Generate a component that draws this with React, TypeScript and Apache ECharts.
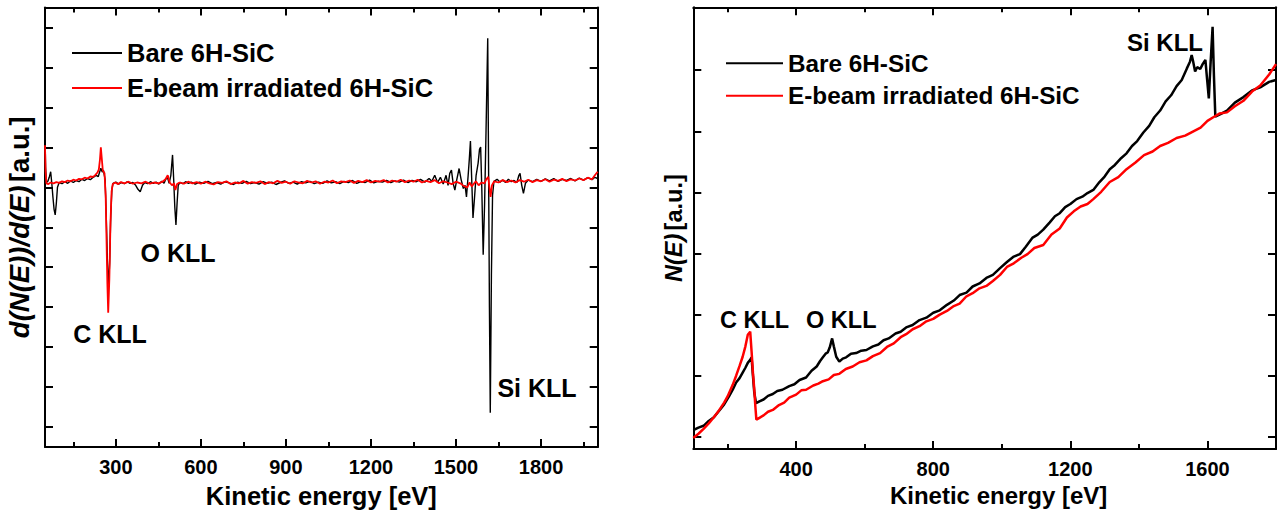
import React, { useEffect, useRef } from "react";
import * as echarts from "echarts";

// ---------- DATA ----------
const xTicksLeft = [300, 600, 900, 1200, 1500, 1800];
const xMinorLeft = [150, 450, 750, 1050, 1350, 1650, 1950];
const yTicksLeft = [-5, -4, -3, -2, -1, 0, 1, 2, 3, 4, 5];
const xTicksRight = [400, 800, 1200, 1600];
const xMinorRight = [200, 600, 1000, 1400];
const yTicksRight = [0.2, 1.2, 2.2, 3.2, 4.2, 5.2, 6.2];

const seriesNames = ["Bare 6H-SiC", "E-beam irradiated 6H-SiC"];

// d(N(E))/d(E), bare sample [eV, a.u.]
const derivBare: [number, number][] = [
  [50, 2.35], [52, 1.5], [55, 1.12], [60, 1.15], [65, 1.25], [70, 1.39], [74, 1.1], [78, 0.75], [82, 0.45], [86, 0.31], [90, 0.6], [94, 1.0],
  [100, 1.12], [110, 1.09], [120, 1.14], [130, 1.1], [140, 1.16], [150, 1.12], [160, 1.17], [170, 1.14], [180, 1.2], [190, 1.17], [200, 1.22],
  [210, 1.19], [220, 1.25], [230, 1.3], [238, 1.27], [247, 1.48], [252, 1.38], [256, 1.43], [262, 1.2], [266, 0.3], [270, -0.8], [274, -1.5],
  [278, -0.9], [282, 0.3], [286, 0.95], [290, 1.1], [300, 1.13], [310, 1.08], [320, 1.12], [330, 1.09], [340, 1.14], [350, 1.1], [360, 1.12],
  [370, 1.05], [378, 0.95], [386, 0.89], [394, 1.05], [402, 1.12], [412, 1.09], [422, 1.14], [432, 1.1], [442, 1.13], [452, 1.08], [462, 1.15],
  [470, 1.1], [476, 1.2], [482, 1.25], [488, 1.1], [494, 1.3], [500, 1.81], [504, 1.2], [508, 0.5], [512, 0.06], [516, 0.6], [520, 1.05],
  [526, 1.12], [536, 1.09], [546, 1.14], [556, 1.1], [566, 1.13], [580, 1.08], [595, 1.13], [610, 1.1], [625, 1.15], [640, 1.09], [655, 1.12],
  [670, 1.08], [685, 1.14], [700, 1.11], [715, 1.07], [730, 1.13], [745, 1.1], [760, 1.15], [775, 1.09], [790, 1.12], [805, 1.08], [820, 1.14],
  [835, 1.1], [850, 1.13], [865, 1.07], [880, 1.12], [895, 1.16], [910, 1.1], [925, 1.13], [940, 1.08], [955, 1.14], [970, 1.11], [985, 1.15],
  [1000, 1.09], [1015, 1.13], [1030, 1.1], [1045, 1.16], [1060, 1.11], [1075, 1.14], [1090, 1.09], [1105, 1.15], [1120, 1.12], [1135, 1.17],
  [1150, 1.1], [1165, 1.14], [1180, 1.12], [1195, 1.18], [1210, 1.11], [1225, 1.15], [1240, 1.13], [1255, 1.17], [1270, 1.12], [1285, 1.16],
  [1300, 1.13], [1315, 1.18], [1330, 1.12], [1345, 1.17], [1360, 1.14], [1375, 1.2], [1390, 1.13], [1405, 1.22], [1415, 1.15], [1425, 1.3],
  [1435, 1.12], [1445, 1.25], [1455, 1.08], [1465, 1.3], [1472, 1.05], [1478, 1.35], [1484, 1.43], [1490, 1.1], [1496, 0.93], [1503, 1.2],
  [1511, 1.47], [1518, 1.2], [1526, 0.97], [1532, 1.05], [1537, 0.76], [1543, 1.3], [1547, 1.7], [1551, 2.16], [1555, 1.3], [1560, 0.23],
  [1565, 0.7], [1571, 1.3], [1578, 1.6], [1583, 1.95], [1587, 2.01], [1591, 1.0], [1596, -0.69], [1601, 0.6], [1606, 2.4], [1612, 4.73],
  [1615, 1.5], [1618, -2.0], [1621, -4.64], [1625, -1.2], [1629, 0.8], [1634, 1.15], [1645, 1.2], [1655, 1.13], [1665, 1.18], [1675, 1.12],
  [1685, 1.2], [1695, 1.14], [1705, 1.17], [1715, 1.12], [1722, 1.3], [1726, 1.35], [1732, 1.05], [1738, 0.85], [1745, 1.1], [1755, 1.18],
  [1770, 1.14], [1785, 1.2], [1800, 1.15], [1815, 1.21], [1830, 1.16], [1845, 1.22], [1860, 1.15], [1875, 1.2], [1890, 1.17], [1905, 1.22],
  [1920, 1.16], [1935, 1.23], [1950, 1.18], [1965, 1.24], [1980, 1.19], [1990, 1.25], [2000, 1.22],
];

// d(N(E))/d(E), e-beam irradiated sample
const derivIrr: [number, number][] = [
  [50, 2.05], [52, 1.4], [55, 1.1], [62, 1.08], [70, 1.12], [80, 1.1], [90, 1.13], [100, 1.11], [110, 1.15], [120, 1.13], [130, 1.17],
  [140, 1.15], [150, 1.19], [160, 1.17], [170, 1.21], [180, 1.2], [190, 1.24], [200, 1.22], [210, 1.27], [220, 1.26], [228, 1.31], [235, 1.37],
  [240, 1.45], [244, 1.7], [247, 2.0], [250, 1.75], [254, 1.42], [260, 1.35], [264, 0.8], [267, -0.3], [270, -1.4], [273, -2.14], [277, -1.3],
  [281, 0.1], [285, 0.9], [289, 1.08], [298, 1.12], [308, 1.08], [318, 1.13], [330, 1.1], [345, 1.14], [360, 1.09], [375, 1.12], [390, 1.1],
  [405, 1.14], [420, 1.09], [435, 1.12], [450, 1.1], [465, 1.14], [475, 1.2], [483, 1.3], [490, 1.12], [498, 1.05], [505, 1.1], [510, 0.93],
  [516, 1.08], [525, 1.12], [540, 1.09], [555, 1.14], [570, 1.1], [585, 1.13], [600, 1.09], [615, 1.14], [630, 1.1], [645, 1.07], [660, 1.13],
  [675, 1.11], [690, 1.15], [705, 1.08], [720, 1.12], [735, 1.1], [750, 1.16], [765, 1.09], [780, 1.13], [795, 1.11], [810, 1.15], [825, 1.08],
  [840, 1.13], [855, 1.1], [870, 1.16], [885, 1.11], [900, 1.14], [915, 1.09], [930, 1.15], [945, 1.12], [960, 1.1], [975, 1.16], [990, 1.12],
  [1005, 1.15], [1020, 1.09], [1035, 1.14], [1050, 1.12], [1065, 1.17], [1080, 1.1], [1095, 1.15], [1110, 1.13], [1125, 1.17], [1140, 1.11],
  [1155, 1.16], [1170, 1.13], [1185, 1.18], [1200, 1.12], [1215, 1.16], [1230, 1.14], [1245, 1.18], [1260, 1.12], [1275, 1.17], [1290, 1.14],
  [1305, 1.19], [1320, 1.13], [1335, 1.17], [1350, 1.14], [1365, 1.19], [1380, 1.12], [1395, 1.16], [1410, 1.13], [1425, 1.18], [1440, 1.1],
  [1455, 1.15], [1470, 1.12], [1485, 1.08], [1500, 1.14], [1515, 1.1], [1528, 1.03], [1540, 1.0], [1548, 1.12], [1556, 1.02], [1562, 1.08],
  [1570, 1.15], [1580, 1.05], [1590, 1.12], [1600, 1.1], [1607, 1.2], [1614, 1.26], [1618, 1.0], [1622, 0.76], [1627, 1.05], [1635, 1.15],
  [1650, 1.12], [1665, 1.18], [1680, 1.13], [1695, 1.17], [1710, 1.12], [1725, 1.18], [1740, 1.14], [1755, 1.19], [1770, 1.13], [1785, 1.18],
  [1800, 1.15], [1815, 1.2], [1830, 1.14], [1845, 1.19], [1860, 1.16], [1875, 1.21], [1890, 1.15], [1905, 1.2], [1920, 1.17], [1935, 1.22],
  [1950, 1.18], [1965, 1.24], [1980, 1.2], [1990, 1.3], [2000, 1.39],
];

// N(E), bare sample [eV, a.u.]
const spectrumBare: [number, number][] = [
  [100, 0.31], [115, 0.35], [130, 0.38], [145, 0.46], [160, 0.52], [176, 0.63], [190, 0.73], [205, 0.87], [215, 0.97], [225, 1.09],
  [235, 1.16], [244, 1.25], [252, 1.33], [259, 1.41], [266, 1.46], [270, 1.5], [274, 1.2], [278, 0.92], [283, 0.75], [293, 0.78], [305, 0.81],
  [318, 0.87], [332, 0.9], [345, 0.95], [360, 0.97], [380, 1.03], [395, 1.06], [410, 1.13], [429, 1.17], [445, 1.28], [460, 1.35], [470, 1.44],
  [478, 1.5], [486, 1.56], [492, 1.58], [498, 1.66], [505, 1.81], [510, 1.68], [517, 1.51], [526, 1.43], [536, 1.48], [546, 1.5], [560, 1.56],
  [575, 1.57], [590, 1.61], [605, 1.62], [624, 1.68], [640, 1.71], [655, 1.78], [670, 1.81], [690, 1.89], [705, 1.92], [721, 1.99], [740, 2.03],
  [760, 2.11], [780, 2.15], [800, 2.23], [819, 2.27], [840, 2.36], [860, 2.43], [877, 2.52], [897, 2.56], [915, 2.66], [935, 2.71], [955, 2.8],
  [974, 2.85], [995, 2.96], [1015, 3.06], [1035, 3.15], [1053, 3.19], [1070, 3.31], [1090, 3.46], [1105, 3.51], [1121, 3.59], [1140, 3.71],
  [1155, 3.81], [1169, 3.86], [1185, 3.96], [1200, 4.01], [1218, 4.09], [1235, 4.13], [1250, 4.19], [1267, 4.24], [1285, 4.37], [1300, 4.46],
  [1315, 4.58], [1330, 4.65], [1348, 4.76], [1364, 4.84], [1380, 4.96], [1395, 5.04], [1413, 5.18], [1430, 5.29], [1445, 5.43], [1462, 5.54],
  [1478, 5.69], [1494, 5.79], [1510, 5.94], [1525, 6.04], [1540, 6.23], [1549, 6.34], [1554, 6.45], [1558, 6.35], [1564, 6.18], [1570, 6.25],
  [1579, 6.22], [1586, 6.3], [1594, 6.37], [1599, 6.05], [1604, 5.74], [1609, 6.3], [1615, 6.91], [1619, 6.1], [1623, 5.44], [1638, 5.48],
  [1657, 5.54], [1680, 5.67], [1705, 5.76], [1730, 5.87], [1754, 5.92], [1780, 6.01], [1800, 6.04],
];

// N(E), e-beam irradiated sample
const spectrumIrr: [number, number][] = [
  [100, 0.18], [115, 0.25], [130, 0.33], [145, 0.42], [160, 0.52], [176, 0.64], [190, 0.76], [200, 0.86], [215, 1.05], [225, 1.2],
  [235, 1.36], [244, 1.51], [252, 1.68], [259, 1.87], [266, 1.92], [270, 1.6], [274, 1.25], [278, 0.97], [281, 0.7], [284, 0.48], [293, 0.51],
  [305, 0.55], [318, 0.61], [332, 0.64], [350, 0.72], [365, 0.76], [380, 0.84], [400, 0.89], [415, 0.96], [429, 0.97], [450, 1.04], [465, 1.07],
  [478, 1.11], [495, 1.14], [510, 1.21], [526, 1.23], [545, 1.31], [565, 1.35], [585, 1.42], [605, 1.45], [624, 1.52], [645, 1.57], [665, 1.67],
  [685, 1.73], [705, 1.83], [721, 1.88], [740, 1.96], [760, 2.01], [780, 2.09], [800, 2.13], [819, 2.2], [840, 2.26], [860, 2.34], [877, 2.38],
  [897, 2.5], [915, 2.55], [935, 2.63], [955, 2.67], [974, 2.75], [995, 2.85], [1015, 2.98], [1035, 3.04], [1057, 3.13], [1075, 3.19],
  [1095, 3.29], [1121, 3.34], [1145, 3.51], [1169, 3.61], [1190, 3.79], [1210, 3.89], [1230, 3.97], [1250, 4.01], [1267, 4.09], [1290, 4.21],
  [1315, 4.37], [1340, 4.45], [1364, 4.58], [1390, 4.69], [1415, 4.81], [1440, 4.87], [1462, 4.96], [1485, 5.01], [1510, 5.09], [1535, 5.13],
  [1559, 5.2], [1580, 5.26], [1600, 5.37], [1617, 5.43], [1635, 5.49], [1657, 5.51], [1680, 5.61], [1705, 5.7], [1730, 5.85], [1754, 5.95],
  [1780, 6.13], [1800, 6.3],
];

const FONT = '"Liberation Sans", Arial, Helvetica, sans-serif';

export default function App() {
  const ref = useRef<HTMLDivElement>(null);

  useEffect(() => {
    if (!ref.current) return;
    const chart = echarts.init(ref.current, undefined, { renderer: "svg" });

    const lineStyle = { color: "#000", width: 2 };
    const mainX = (grid: number, pos: string, min: number, max: number, ticks: number[], labels: boolean, extra: any = {}) => ({
      type: "value",
      gridIndex: grid,
      position: pos,
      min,
      max,
      axisLine: { show: true, onZero: false, lineStyle },
      axisTick: { show: true, inside: true, length: 8, lineStyle, customValues: ticks },
      axisLabel: labels
        ? {
            show: true,
            customValues: ticks,
            formatter: (v: number) => String(v),
            color: "#000",
            fontWeight: "bold",
            fontFamily: FONT,
            fontSize: 20,
            margin: 10,
          }
        : { show: false },
      splitLine: { show: false },
      ...extra,
    });
    const minorX = (grid: number, pos: string, min: number, max: number, ticks: number[]) => ({
      type: "value",
      gridIndex: grid,
      position: pos,
      min,
      max,
      axisLine: { show: false, onZero: false },
      axisTick: { show: true, inside: true, length: 5, lineStyle, customValues: ticks },
      axisLabel: { show: false },
      splitLine: { show: false },
    });
    const mainY = (grid: number, pos: string, min: number, max: number, ticks: number[], extra: any = {}) => ({
      type: "value",
      gridIndex: grid,
      position: pos,
      min,
      max,
      axisLine: { show: true, onZero: false, lineStyle },
      axisTick: { show: true, inside: true, length: 8, lineStyle, customValues: ticks },
      axisLabel: { show: false },
      splitLine: { show: false },
      ...extra,
    });

    const titleX = (gap: number, size: number, padLeft: number) => ({
      name: "Kinetic energy [eV]",
      nameLocation: "middle",
      nameGap: gap,
      nameTextStyle: { color: "#000", fontWeight: "bold", fontFamily: FONT, fontSize: size, padding: [0, 0, 0, padLeft] },
    });

    const richTitle = (size: number) => ({
      i: { fontStyle: "italic", fontWeight: "bold", fontFamily: FONT, fontSize: size, color: "#000" },
      n: { fontStyle: "normal", fontWeight: "bold", fontFamily: FONT, fontSize: size, color: "#000" },
    });

    const legendBase = (left: number, top: number, w: number, gap: number, size: number, lh: number) => ({
      orient: "vertical",
      left,
      top,
      padding: 0,
      itemWidth: w,
      itemHeight: 2,
      itemGap: gap,
      icon: "rect",
      selectedMode: false,
      data: seriesNames,
      textStyle: { color: "#000", fontWeight: "bold", fontFamily: FONT, fontSize: size, lineHeight: lh },
    });

    const annot = (text: string, x: number, y: number, size: number) => ({
      type: "text",
      x,
      y,
      z: 10,
      style: { text, fill: "#000", fontSize: size, fontWeight: "bold", fontFamily: FONT, align: "center", verticalAlign: "middle" },
    });

    const option: any = {
      animation: false,
      backgroundColor: "#fff",
      grid: [
        { left: 45, top: 7.5, width: 552.7, height: 439.5, outerBoundsMode: "none" },
        { left: 45, top: 7.5, width: 552.7, height: 439.5, outerBoundsMode: "none" },
        { left: 693.3, top: 7.3, width: 582.7, height: 441.7, outerBoundsMode: "none" },
        { left: 693.3, top: 7.3, width: 582.7, height: 441.7, outerBoundsMode: "none" },
      ],
      xAxis: [
        mainX(0, "bottom", 50, 2000, xTicksLeft, true, titleX(36, 25.5, 0)),
        mainX(0, "top", 50, 2000, xTicksLeft, false),
        minorX(1, "bottom", 50, 2000, xMinorLeft),
        minorX(1, "top", 50, 2000, xMinorLeft),
        mainX(2, "bottom", 100, 1800, xTicksRight, true, titleX(28, 24, 28)),
        mainX(2, "top", 100, 1800, xTicksRight, false),
        minorX(3, "bottom", 100, 1800, xMinorRight),
        minorX(3, "top", 100, 1800, xMinorRight),
      ],
      yAxis: [
        mainY(0, "left", -5.5, 5.5, yTicksLeft, {
          name: "{i|d(N(E))/d(E)} {n|[a.u.]}",
          nameLocation: "middle",
          nameRotate: 90,
          nameGap: 12,
          nameTextStyle: { rich: richTitle(27.5) },
        }),
        mainY(0, "right", -5.5, 5.5, yTicksLeft),
        { type: "value", gridIndex: 1, min: -5.5, max: 5.5, show: false },
        mainY(2, "left", 0, 7.23, yTicksRight, {
          name: "{i|N(E)} {n|[a.u.]}",
          nameLocation: "middle",
          nameRotate: 90,
          nameGap: 7,
          nameTextStyle: { rich: richTitle(23.5) },
        }),
        mainY(2, "right", 0, 7.23, yTicksRight),
        { type: "value", gridIndex: 3, min: 0, max: 7.23, show: false },
      ],
      legend: [legendBase(72, 38, 50, 5, 25.5, 30), legendBase(726, 49.3, 57, 4.4, 24.3, 28)],
      series: [
        {
          name: seriesNames[0], type: "line", xAxisIndex: 0, yAxisIndex: 0, data: derivBare,
          showSymbol: false, symbol: "none", itemStyle: { color: "#000" }, lineStyle: { color: "#000", width: 1.4 }, z: 2,
        },
        {
          name: seriesNames[1], type: "line", xAxisIndex: 0, yAxisIndex: 0, data: derivIrr,
          showSymbol: false, symbol: "none", itemStyle: { color: "#ff0000" }, lineStyle: { color: "#ff0000", width: 1.8 }, z: 3,
        },
        {
          name: seriesNames[0], type: "line", xAxisIndex: 4, yAxisIndex: 3, data: spectrumBare,
          showSymbol: false, symbol: "none", itemStyle: { color: "#000" }, lineStyle: { color: "#000", width: 2.5 }, z: 2,
        },
        {
          name: seriesNames[1], type: "line", xAxisIndex: 4, yAxisIndex: 3, data: spectrumIrr,
          showSymbol: false, symbol: "none", itemStyle: { color: "#ff0000" }, lineStyle: { color: "#ff0000", width: 2.5 }, z: 3,
        },
      ],
      graphic: [
        annot("O KLL", 178, 253, 25),
        annot("C KLL", 110, 334, 25),
        annot("Si KLL", 537, 388, 25),
        annot("C KLL", 754.5, 320, 23.5),
        annot("O KLL", 841.3, 320, 23.5),
        annot("Si KLL", 1165, 42, 24),
      ],
    };

    chart.setOption(option);
    return () => chart.dispose();
  }, []);

  return (
    <div
      ref={ref}
      style={{ position: "absolute", left: 0, top: 0, width: 1282, height: 519, background: "#fff" }}
    />
  );
}
